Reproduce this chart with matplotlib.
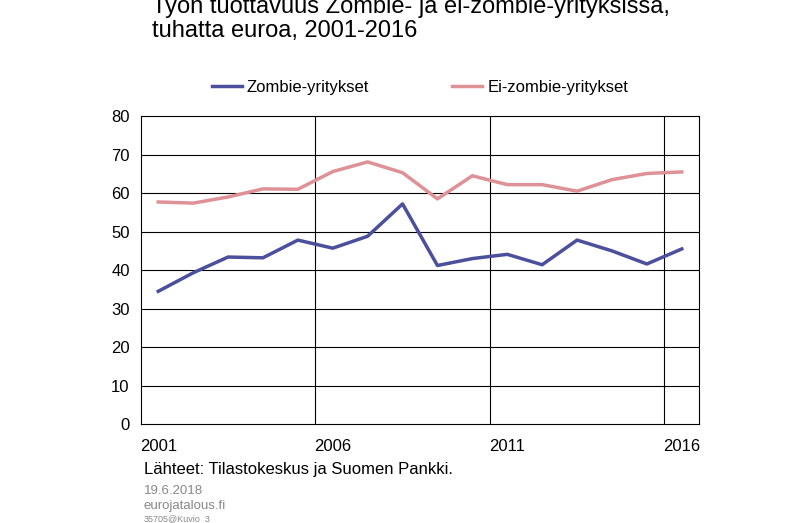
import matplotlib
matplotlib.use("Agg")
import matplotlib.pyplot as plt

years = list(range(2001, 2017))
zombie = [34.5, 39.3, 43.4, 43.2, 47.8, 45.7, 48.8, 57.2, 41.2, 43.0, 44.1, 41.4, 47.8, 45.0, 41.6, 45.5]
ei_zombie = [57.7, 57.4, 59.0, 61.1, 61.0, 65.6, 68.1, 65.3, 58.5, 64.5, 62.2, 62.2, 60.5, 63.5, 65.1, 65.5]
tick_years = [2001, 2006, 2011, 2016]

plt.rcParams['font.family'] = ['Liberation Sans', 'DejaVu Sans']
fig = plt.figure(figsize=(8, 5.23), dpi=100)
ax = fig.add_axes([0.176, 0.189, 0.698, 0.589])
for y in range(10, 80, 10):
    ax.axhline(y, color='black', lw=0.8, zorder=0)
for x in [2005.5, 2010.5, 2015.5]:
    ax.axvline(x, color='black', lw=0.8, zorder=0)
ax.plot(years, zombie, color='#4B4F9C', lw=2.5, label='Zombie-yritykset')
ax.plot(years, ei_zombie, color='#DE9196', lw=2.5, label='Ei-zombie-yritykset')
ax.set_xlim(2000.5, 2016.5)
ax.set_ylim(0, 80)
ax.set_yticks(range(0, 81, 10))
ax.set_xticks(tick_years)
ax.tick_params(labelsize=12, length=0, pad=8)
ax.tick_params(axis='x', pad=11)
for s in ax.spines.values():
    s.set_linewidth(0.8)
ax.legend(loc='lower center', bbox_to_anchor=(0.5, 1.02), ncol=2, frameon=False,
          fontsize=12, handlelength=1.8, handletextpad=0.3, columnspacing=5)
fig.text(0.19, 0.92, 'Työn tuottavuus Zombie- ja ei-zombie-yrityksissä,\ntuhatta euroa, 2001-2016',
         fontsize=17, va='bottom', linespacing=1.1)
fig.text(0.18, 0.093, 'Lähteet: Tilastokeskus ja Suomen Pankki.', fontsize=12)
fig.text(0.18, 0.056, '19.6.2018', fontsize=9.5, color='#888888')
fig.text(0.18, 0.027, 'eurojatalous.fi', fontsize=9.5, color='#888888')
fig.text(0.18, 0.004, '35705@Kuvio_3', fontsize=6.5, color='#888888')
fig.savefig('out.png', dpi=100)
